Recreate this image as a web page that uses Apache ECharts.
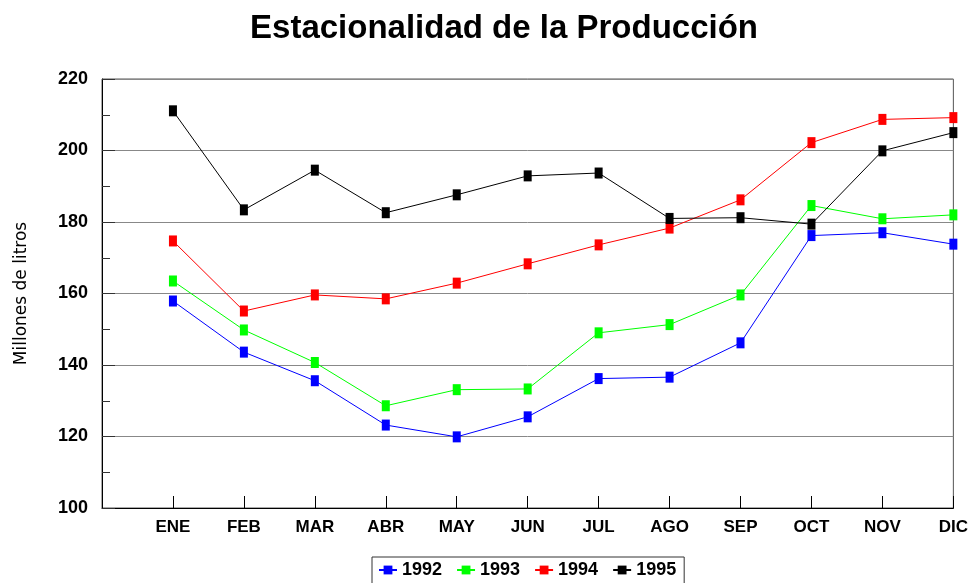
<!DOCTYPE html>
<html>
<head>
<meta charset="utf-8">
<script src="https://cdn.jsdelivr.net/npm/echarts@6/dist/echarts.min.js"></script>
<style>
  html, body { margin: 0; padding: 0; background: #fff; }
  #chart { width: 971px; height: 583px; }
</style>
</head>
<body>
<div id="chart"></div>
<script>
// first slot is left empty so ENE sits one step in from the axis
const months = ['', 'ENE', 'FEB', 'MAR', 'ABR', 'MAY', 'JUN', 'JUL', 'AGO', 'SEP', 'OCT', 'NOV', 'DIC']
const years = ['1992', '1993', '1994', '1995']

const v1992 = [null, 157.9, 143.6, 135.6, 123.2, 119.9, 125.5, 136.2, 136.6, 146.2, 176.2, 177.0, 173.8]
const v1993 = [null, 163.5, 149.8, 140.7, 128.6, 133.1, 133.3, 149.0, 151.3, 159.6, 184.6, 180.9, 182.0]
const v1994 = [null, 174.7, 155.1, 159.6, 158.5, 162.9, 168.3, 173.6, 178.3, 186.2, 202.2, 208.7, 209.2]
const v1995 = [null, 211.1, 183.4, 194.5, 182.6, 187.6, 192.9, 193.7, 181.0, 181.2, 179.4, 199.9, 205.0]

const COLORS = ['#0000ff', '#00ff00', '#ff0000', '#000000']
const FONT = '"Liberation Sans", Arial, sans-serif'
const WIDE = '"DejaVu Sans", sans-serif'

const chart = echarts.init(document.getElementById('chart'))

function makeSeries(name, data, color) {
  return {
    name: name,
    type: 'line',
    data: data,
    symbol: 'rect',
    symbolSize: [8, 11],
    showAllSymbol: true,
    itemStyle: { color: color },
    lineStyle: { color: color, width: 1 },
    emphasis: { disabled: true },
    animation: false,
  }
}

chart.setOption({
  backgroundColor: '#fff',
  animation: false,
  title: {
    text: 'Estacionalidad de la Producción',
    left: 499,
    textAlign: 'center',
    top: 7,
    textStyle: { fontFamily: FONT, fontWeight: 'bold', fontSize: 33, color: '#000' },
  },
  grid: {
    left: 102,
    right: 16,
    top: 79,
    bottom: 75,
    show: true,
    borderColor: '#555',
    borderWidth: 1,
  },
  legend: {
    data: years,
    left: 372,
    top: 557,
    padding: [4, 8, 8, 6],
    itemGap: 14,
    itemWidth: 18,
    itemHeight: 11,
    borderColor: '#333',
    borderWidth: 1,
    textStyle: { fontFamily: FONT, fontWeight: 'bold', fontSize: 18, color: '#000' },
  },
  xAxis: {
    type: 'category',
    data: months,
    boundaryGap: false,
    axisLine: { lineStyle: { color: '#000', width: 1 } },
    axisTick: { inside: true, length: 12, lineStyle: { color: '#000' } },
    axisLabel: { fontFamily: FONT, fontWeight: 'bold', fontSize: 17, color: '#000', margin: 11 },
    splitLine: { show: false },
  },
  yAxis: {
    type: 'value',
    min: 100,
    max: 220,
    interval: 20,
    name: 'Millones de litros',
    nameLocation: 'middle',
    nameGap: 72,
    nameTextStyle: { fontFamily: WIDE, fontSize: 17, color: '#000' },
    axisLine: { show: true, lineStyle: { color: '#000', width: 1 } },
    axisTick: { show: true, inside: true, length: 13, lineStyle: { color: '#333' } },
    minorTick: { show: true, splitNumber: 2, length: 8, lineStyle: { color: '#333' } },
    axisLabel: { fontFamily: FONT, fontWeight: 'bold', fontSize: 18, color: '#000', margin: 14 },
    splitLine: { show: true, lineStyle: { color: '#888', width: 1 } },
  },
  series: [
    makeSeries(years[0], v1992, COLORS[0]),
    makeSeries(years[1], v1993, COLORS[1]),
    makeSeries(years[2], v1994, COLORS[2]),
    makeSeries(years[3], v1995, COLORS[3]),
  ],
})
</script>
</body>
</html>
